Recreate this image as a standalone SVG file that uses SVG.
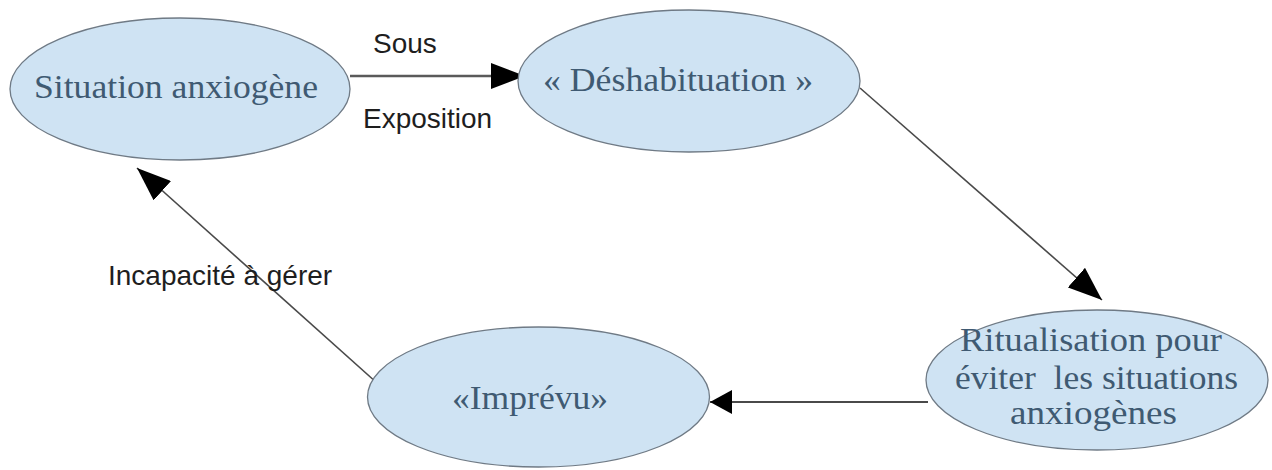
<svg xmlns="http://www.w3.org/2000/svg" width="1272" height="470" viewBox="0 0 1272 470">
  <style>
    .node ellipse { fill: #cfe3f3; stroke: #6f7a85; stroke-width: 1.3; }
    .node text { font-family: "Liberation Serif", "Times New Roman", serif; font-size: 34px; fill: #3f5a72; }
    .conn line { stroke: #4a4a4a; stroke-width: 1.6; }
    .lbl { font-family: "Liberation Sans", Arial, sans-serif; font-size: 28px; fill: #1e1e1e; }
  </style>
  <defs>
    <marker id="ah" markerUnits="userSpaceOnUse" markerWidth="34" markerHeight="26" viewBox="0 0 34 26" refX="34" refY="13" orient="auto">
      <path d="M0,0 L34,13 L0,26 Z" fill="#000"/>
    </marker>
    <marker id="ahs" markerUnits="userSpaceOnUse" markerWidth="22" markerHeight="24" viewBox="0 0 22 24" refX="22" refY="12" orient="auto">
      <path d="M0,0 L22,12 L0,24 Z" fill="#000"/>
    </marker>
  </defs>

  <g id="connectors" class="conn">
    <line x1="350" y1="76" x2="525" y2="76" style="stroke-width:2.6;stroke:#5a5a5a" marker-end="url(#ah)"/>
    <line x1="860" y1="88" x2="1102" y2="300" marker-end="url(#ah)"/>
    <line x1="928" y1="402" x2="710" y2="402" style="stroke-width:2" marker-end="url(#ahs)"/>
    <line x1="377" y1="383" x2="137" y2="168" marker-end="url(#ah)"/>
  </g>

  <g id="labels">
    <text class="lbl" x="373" y="53">Sous</text>
    <text class="lbl" x="363" y="128">Exposition</text>
    <text class="lbl" x="108" y="285">Incapacité à gérer</text>
  </g>

  <g id="node-situation" class="node">
    <ellipse cx="180" cy="89" rx="170" ry="71"/>
    <text x="34" y="98" textLength="284" lengthAdjust="spacingAndGlyphs">Situation anxiogène</text>
  </g>

  <g id="node-deshabituation" class="node">
    <ellipse cx="689" cy="81" rx="171" ry="71"/>
    <text x="543" y="91" textLength="270" lengthAdjust="spacingAndGlyphs">« Déshabituation »</text>
  </g>

  <g id="node-ritualisation" class="node">
    <ellipse cx="1097" cy="380" rx="171" ry="70"/>
    <text x="960" y="351" textLength="262" lengthAdjust="spacingAndGlyphs">Ritualisation pour</text>
    <text x="955" y="389" textLength="283" lengthAdjust="spacingAndGlyphs" xml:space="preserve">éviter  les situations</text>
    <text x="1010" y="424" textLength="167" lengthAdjust="spacingAndGlyphs">anxiogènes</text>
  </g>

  <g id="node-imprevu" class="node">
    <ellipse cx="538.5" cy="397" rx="171" ry="70"/>
    <text x="452" y="409" textLength="156" lengthAdjust="spacingAndGlyphs">«Imprévu»</text>
  </g>
</svg>
